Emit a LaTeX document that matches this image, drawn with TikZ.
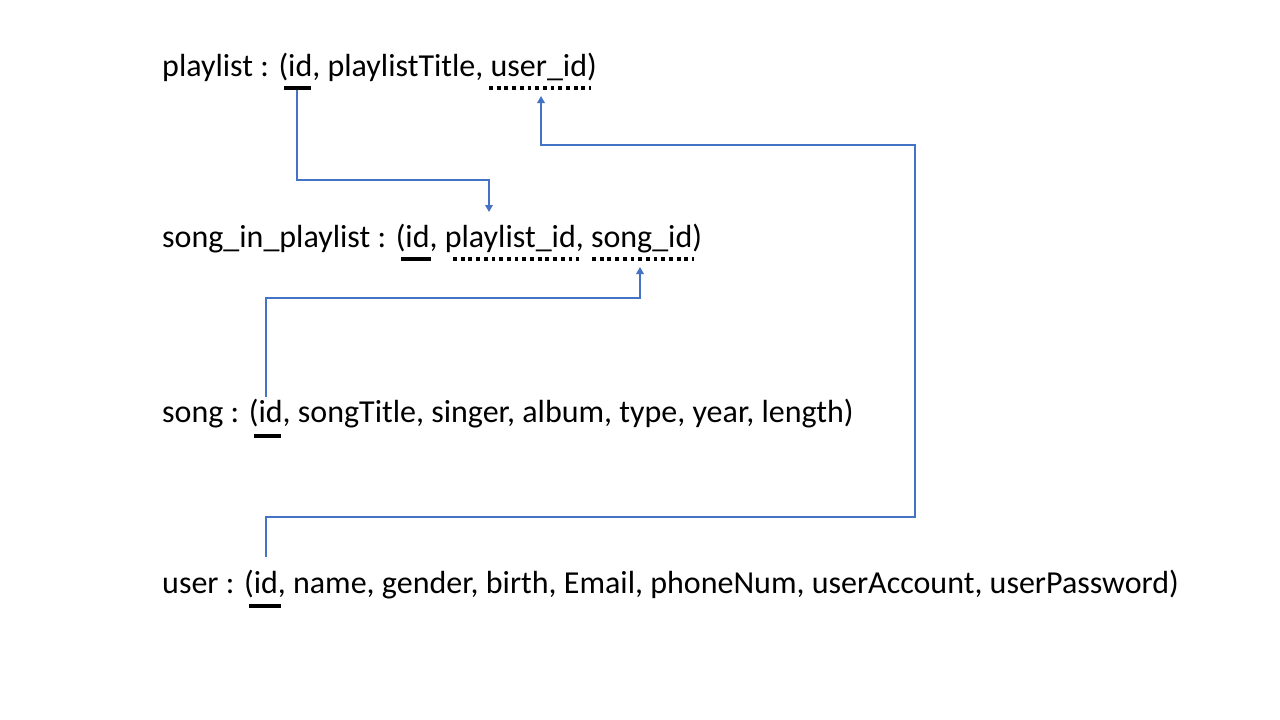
\documentclass[tikz,border=0pt]{standalone}
\usepackage{fontspec}
\setmainfont{Carlito}
\usetikzlibrary{arrows.meta}
\definecolor{linkblue}{HTML}{4472C4}
\begin{document}
\begin{tikzpicture}[x=1pt,y=-1pt,
  rel/.style={anchor=base west, inner sep=0pt, font=\fontsize{32}{38}\selectfont},
  pk/.style={line width=3.6pt},
  fk/.style={line width=3.4pt, dash pattern=on 3.8pt off 3.9pt},
  link/.style={draw=linkblue, line width=2.8pt, -{Triangle[length=7pt,width=7.5pt]}}]
\useasboundingbox[fill=white] (0,0) rectangle (1280,720);

% relations
\node[rel] (playlist) at (162,76) {playlist : (id, playlistTitle, user\_id)};
\node[rel] (sip) at (162,247) {song\_in\_playlist : (id, playlist\_id, song\_id)};
\node[rel] (song) at (162,422) {song : (id, songTitle, singer, album, type, year, length)};
\node[rel] (user) at (162,593) {user : (id, name, gender, birth, Email, phoneNum, userAccount, userPassword)};

% key underlines: solid = primary key, dotted = foreign key
\draw[pk] (284,88) -- (311,88);
\draw[fk] (489,88) -- (591,88);
\draw[pk] (401,259) -- (431,259);
\draw[fk] (453,259) -- (579,259);
\draw[fk] (592,259) -- (694,259);
\draw[pk] (254,436) -- (281,436);
\draw[pk] (249,606) -- (281,606);

% connector end points
\coordinate (playlist-id) at (297,90);
\coordinate (playlist-uid) at (541,96);
\coordinate (sip-plid) at (489,212);
\coordinate (sip-sid) at (640,267);
\coordinate (song-id) at (266,397);
\coordinate (user-id) at (266,557);

% references
\draw[link] (playlist-id) -- (297,180) -| (sip-plid);
\draw[link] (song-id) -- (266,298) -| (sip-sid);
\draw[link] (user-id) -- (266,517) -- (915,517) -- (915,145) -| (playlist-uid);
\end{tikzpicture}
\end{document}
